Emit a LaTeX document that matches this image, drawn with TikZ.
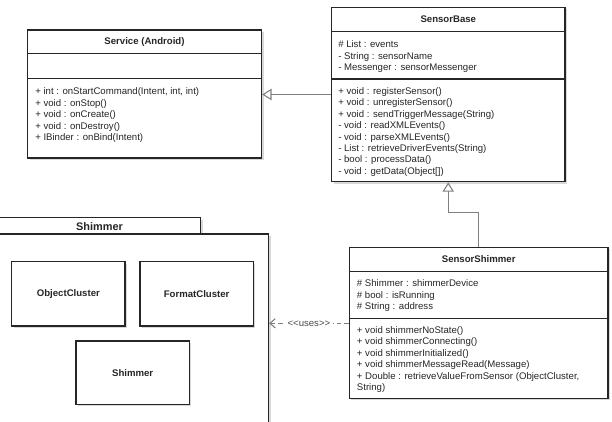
\documentclass[tikz,border=0pt]{standalone}
\usepackage{fontspec}
\setmainfont{Liberation Sans}
\usetikzlibrary{calc,positioning,fit,shadows,arrows.meta}

\begin{document}
\begin{tikzpicture}[x=0.75pt, y=-0.75pt,
  every node/.style={font=\fontsize{7.2}{8.6}\selectfont, text=black!85},
  box/.style={draw=black!85, line width=1pt, fill=white, inner sep=0pt,
    drop shadow={shadow xshift=1.6pt, shadow yshift=-1.6pt, opacity=0.3}},
  title/.style={font=\fontsize{7.2}{8.6}\selectfont\bfseries},
  member/.style={anchor=base west, inner sep=0pt},
  sep/.style={draw=black!85, line width=1pt},
  inherit/.style={draw=black!50, line width=0.8pt, -{Triangle[length=7pt, width=8.5pt, fill=white]}},
  uses/.style={draw=black!50, line width=0.8pt, dash pattern=on 3.5pt off 2pt, -{Straight Barb[length=4pt, width=7pt]}}]
\useasboundingbox (0,0) rectangle (612,422);
\fill[white] (0,0) rectangle (612,422);
\clip (0,0) rectangle (612,422);

% package Shimmer
\node[box, fit={(-10,217.7) (200.7,234)}] (pkgtab) {};
\node[box, fit={(-10,234) (268.5,445)}] (pkg) {};
\node[title, font=\fontsize{8.2}{10}\selectfont\bfseries] (pkgname) at (99.5,226.7) {Shimmer};
\node[box, fit={(11.7,261.7) (125,326)}] (oc) {};
\node[title] (oclbl) at (oc) {ObjectCluster};
\node[box, fit={(140,261.7) (253.3,326)}] (fc) {};
\node[title] (fclbl) at (fc) {FormatCluster};
\node[box, fit={(76,341) (189.3,404.3)}] (shm) {};
\node[title] (shmlbl) at (shm) {Shimmer};

% Service (Android)
\node[box, fit={(27.5,30) (261.5,158)}] (srv) {};
\node[title] (srvname) at (144.5,42.5) {Service (Android)};
\draw[sep] (27.5,53.3) -- (261.5,53.3);
\draw[sep] (27.5,78.7) -- (261.5,78.7);
\foreach \m [count=\i] in {{+ int : onStartCommand(Intent, int, int)}, {+ void : onStop()},
    {+ void : onCreate()}, {+ void : onDestroy()}, {+ IBinder : onBind(Intent)}}
  \node[member] (srv-op\i) at (35,{94.5+11.5*(\i-1)}) {\m};

% SensorBase
\node[box, fit={(331.5,7.3) (565,181.7)}] (base) {};
\node[title] (basename) at (448.3,19.5) {SensorBase};
\draw[sep] (331.5,31.7) -- (565,31.7);
\draw[sep] (331.5,79) -- (565,79);
\foreach \m [count=\i] in {{\# List : events}, {- String : sensorName}, {- Messenger : sensorMessenger}}
  \node[member] (base-at\i) at (338,{47.5+11.5*(\i-1)}) {\m};
\foreach \m [count=\i] in {{+ void : registerSensor()}, {+ void : unregisterSensor()},
    {+ void : sendTriggerMessage(String)}, {- void : readXMLEvents()}, {- void : parseXMLEvents()},
    {- List : retrieveDriverEvents(String)}, {- bool : processData()}, {- void : getData(Object[])}}
  \node[member] (base-op\i) at (338,{94.5+11.4*(\i-1)}) {\m};

% SensorShimmer
\node[box, fit={(349.3,247.3) (608,398.3)}] (shim) {};
\node[title] (shimname) at (478.7,259) {SensorShimmer};
\draw[sep] (349.3,271.7) -- (608,271.7);
\draw[sep] (349.3,318.7) -- (608,318.7);
\foreach \m [count=\i] in {{\# Shimmer : shimmerDevice}, {\# bool : isRunning}, {\# String : address}}
  \node[member] (shim-at\i) at (356.7,{286.8+11.3*(\i-1)}) {\m};
\foreach \m [count=\i] in {{+ void shimmerNoState()}, {+ void shimmerConnecting()},
    {+ void shimmerInitialized()}, {+ void shimmerMessageRead(Message)},
    {+ Double : retrieveValueFromSensor (ObjectCluster,}, {String)}}
  \node[member] (shim-op\i) at (356.7,{333.5+11.4*(\i-1)}) {\m};

% connectors
\draw[inherit] (base.west) -- (base.west -| srv.east);
\draw[inherit] (shim.north) -- ++(0,-34) -| (base.south);
\coordinate (usesy) at (0,323.3);
\draw[uses] (shim.west |- usesy) -- node[fill=white, inner sep=2pt, text=black!70] (useslbl) {<\kern0pt<uses>\kern0pt>} (pkg.east |- usesy);
\end{tikzpicture}
\end{document}
